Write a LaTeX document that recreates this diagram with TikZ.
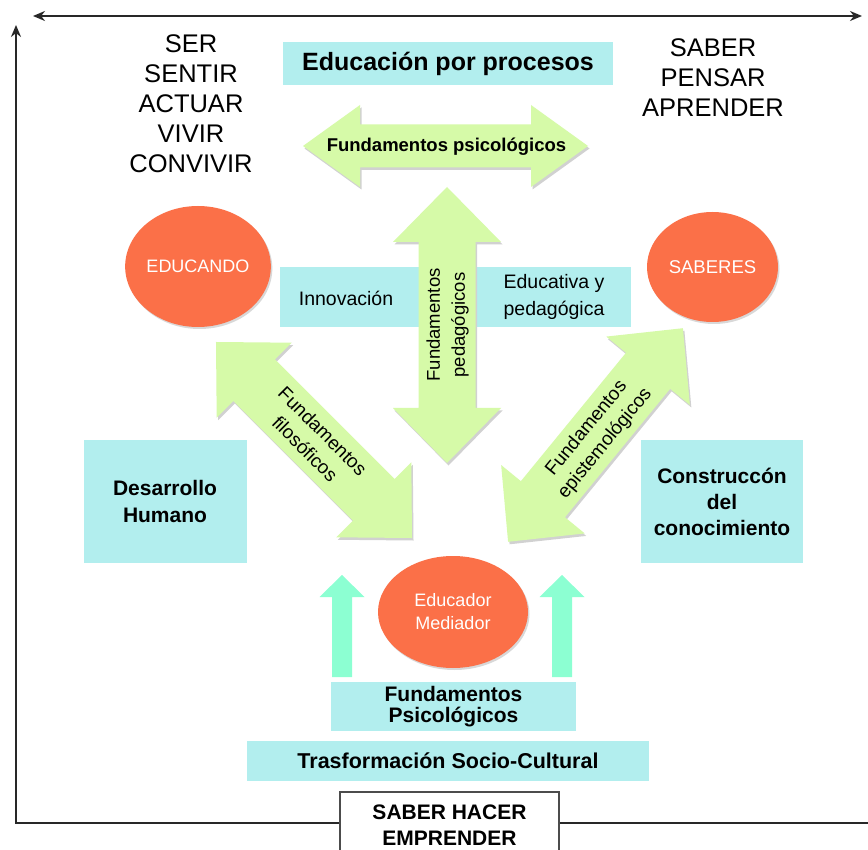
\documentclass[tikz,border=0pt]{standalone}
\usepackage{fontspec}
\setmainfont{Liberation Sans}
\usetikzlibrary{arrows.meta,shapes.geometric,shadows}
\definecolor{cajaazul}{RGB}{178,238,238}
\definecolor{verdeflecha}{RGB}{214,250,168}
\definecolor{naranja}{RGB}{251,112,72}
\definecolor{aguamarina}{RGB}{140,255,210}
\definecolor{ejegris}{RGB}{40,40,40}

\tikzset{
  caja/.style={fill=cajaazul,inner sep=0pt,align=center},
  texto/.style={inner sep=0pt,align=center},
  circulo/.style={ellipse,fill=naranja,text=white,inner sep=0pt,align=center,
    drop shadow={opacity=0.3,shadow xshift=1.5pt,shadow yshift=-2pt}},
  eje/.style={draw=ejegris,line width=2pt},
  punta/.tip={Stealth[length=12pt,width=10pt]}
}

\newcommand{\flechadoble}[6]{%
  \begin{scope}[shift={#1},xshift=1.5pt,yshift=-2.5pt,rotate=#2]
    \fill[black!18] (-#3,0) -- (-#3+#6,#5) -- (-#3+#6,#4) -- (#3-#6,#4) -- (#3-#6,#5) -- (#3,0)
      -- (#3-#6,-#5) -- (#3-#6,-#4) -- (-#3+#6,-#4) -- (-#3+#6,-#5) -- cycle;
  \end{scope}
  \begin{scope}[shift={#1},rotate=#2]
    \fill[verdeflecha] (-#3,0) -- (-#3+#6,#5) -- (-#3+#6,#4) -- (#3-#6,#4) -- (#3-#6,#5) -- (#3,0)
      -- (#3-#6,-#5) -- (#3-#6,-#4) -- (-#3+#6,-#4) -- (-#3+#6,-#5) -- cycle;
  \end{scope}}

\begin{document}
\begin{tikzpicture}[x=1pt,y=-1pt]
  \clip (0,0) rectangle (868,850);
  \fill[white] (0,0) rectangle (868,850);

  \coordinate (izq) at (33,16);
  \coordinate (der) at (862,16);
  \coordinate (arriba) at (16,25);
  \coordinate (origen) at (16,823);
  \coordinate (fin) at (868,823);
  \draw[eje,punta-punta] (izq) -- (der);
  \draw[eje,-punta] (fin) -- (origen) -- (arriba);

  \node[texto,font=\fontsize{25.5}{30}\selectfont] (ser) at (191,104)
    {SER\\SENTIR\\ACTUAR\\VIVIR\\CONVIVIR};
  \node[texto,font=\fontsize{25.5}{30}\selectfont] (saber) at (713,78)
    {SABER\\PENSAR\\APRENDER};
  \node[caja,minimum width=330,minimum height=43,font=\bfseries\fontsize{25}{30}\selectfont]
    (procesos) at (448,63.5) {Educación por procesos};

  \node[caja,minimum width=351,minimum height=60] (innovacion) at (455.5,297) {};
  \node[texto,font=\fontsize{19.5}{27}\selectfont] (innov) at (346,298) {Innovación};
  \node[texto,font=\fontsize{19.5}{27}\selectfont] (educativa) at (554,296.5)
    {Educativa y\\pedagógica};

  \node[circulo,minimum width=130,minimum height=121,font=\fontsize{18}{22}\selectfont]
    (educando) at (198,266.5) {EDUCANDO};
  \node[circulo,minimum width=131,minimum height=110,font=\fontsize{18.5}{22}\selectfont]
    (saberes) at (712.5,267) {SABERES};

  \flechadoble{(445.5,146)}{0}{142.5}{21.5}{41}{57}
  \flechadoble{(447,325)}{90}{138}{28.5}{54}{55}
  \flechadoble{(314,440)}{-45}{138.6}{29.5}{53}{54}
  \flechadoble{(595.5,435)}{50.7}{138}{28.5}{54}{55}

  \node[texto,font=\bfseries\fontsize{18.5}{22}\selectfont] (psico) at (446.5,147)
    {Fundamentos psicológicos};
  \node[texto,rotate=90,font=\fontsize{18.5}{25}\selectfont] (pedago) at (447.5,325)
    {Fundamentos\\pedagógicos};
  \node[texto,rotate=-45,font=\fontsize{19}{25}\selectfont] (filoso) at (314,440)
    {Fundamentos\\filosóficos};
  \node[texto,rotate=50.7,font=\fontsize{19}{24}\selectfont] (episte) at (596,436)
    {Fundamentos\\epistemológicos};

  \node[caja,minimum width=163,minimum height=123,font=\bfseries\fontsize{21}{27}\selectfont]
    (desarrollo) at (165,501.5) {Desarrollo\\Humano};
  \node[caja,minimum width=162,minimum height=123,font=\bfseries\fontsize{21}{26}\selectfont]
    (construccion) at (722,501.5) {Construccón\\del\\conocimiento};

  \node[circulo,minimum width=150,minimum height=112,font=\fontsize{18}{23}\selectfont]
    (educador) at (453,612) {Educador\\Mediador};

  \foreach \cx in {342,562}
    \fill[aguamarina] (\cx,575) -- (\cx+22.5,597) -- (\cx+10,597) -- (\cx+10,677)
      -- (\cx-10,677) -- (\cx-10,597) -- (\cx-22.5,597) -- cycle;

  \node[caja,minimum width=245,minimum height=49,font=\bfseries\fontsize{21}{21}\selectfont]
    (fundpsico) at (453.5,706.5) {Fundamentos\\Psicológicos};
  \node[caja,minimum width=402,minimum height=40,font=\bfseries\fontsize{21.5}{26}\selectfont]
    (trasformacion) at (448,761) {Trasformación Socio-Cultural};
  \node[draw=black!70,line width=1.5pt,fill=white,inner sep=0pt,align=center,
    minimum width=219,minimum height=66,font=\bfseries\fontsize{21}{26}\selectfont]
    (hacer) at (449.5,825) {SABER HACER\\EMPRENDER};
\end{tikzpicture}
\end{document}
